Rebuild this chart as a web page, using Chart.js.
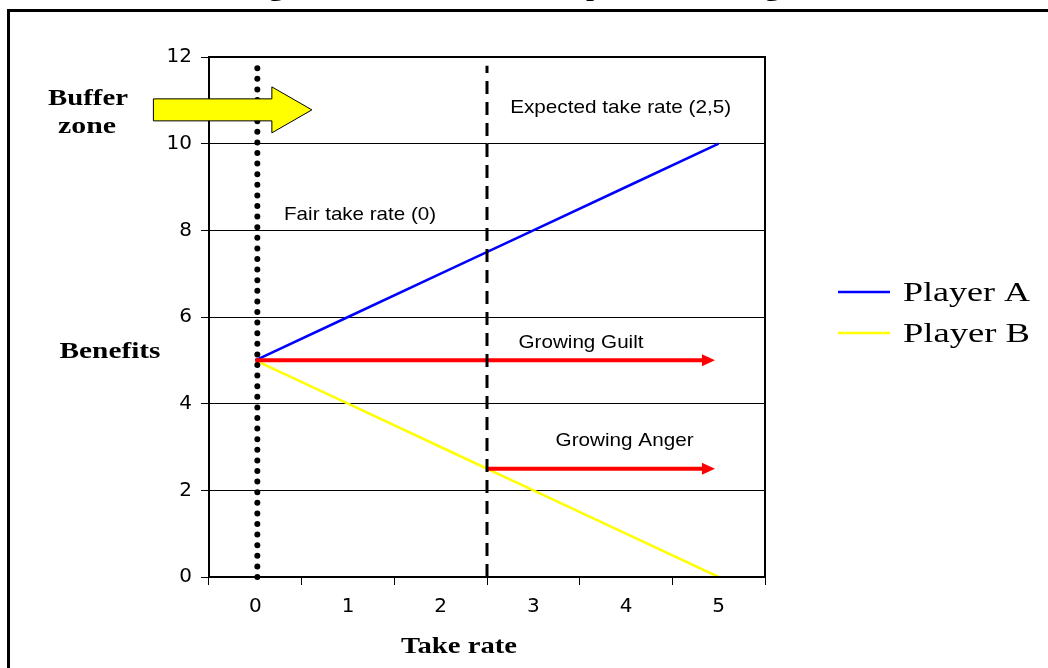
<!DOCTYPE html>
<html>
<head>
<meta charset="utf-8">
<title>Take rate and benefits</title>
<script src="https://cdn.jsdelivr.net/npm/chart.js@4.4.1/dist/chart.umd.min.js"></script>
<style>
  body { margin: 0; background: #fff; }
  canvas { display: block; }
</style>
</head>
<body>
<canvas id="takeChart" width="1048" height="668"></canvas>
<script>
// chart values
const takeRates = [0, 1, 2, 3, 4, 5];
const xLabels = ["0", "1", "2", "3", "4", "5"];
const playerA = [5, 6, 7, 8, 9, 10];
const playerB = [5, 4, 3, 2, 1, 0];
const yTicks = [0, 2, 4, 6, 8, 10, 12];

// reference lines and arrows, in data units: [from, to, level]
const fairRate = [0, 0, 11.8];
const expectedRate = [2.5, 0, 11.8];
const guiltArrow = [0, 4.96, 5];
const angerArrow = [2.5, 4.96, 2.5];
const bufferArrow = [-1.1, 0.61, 10.78];

// text notes inside the plot: [text, x, y (baseline), width px]
const notes = [
  ["Expected take rate (2,5)", 2.75, 10.71, 221],
  ["Fair take rate (0)", 0.31, 8.24, 152],
  ["Growing Guilt", 2.84, 5.28, 125],
  ["Growing Anger", 3.24, 3.02, 138]
];

const sansFont = "'Liberation Sans', Arial, sans-serif";
const serifFont = "'Liberation Serif', 'Times New Roman', serif";

function fitText(ctx, text, x, y, width, align) {
  const w = ctx.measureText(text).width;
  ctx.save();
  ctx.translate(x, y);
  ctx.scale(width / w, 1);
  ctx.textAlign = align || "left";
  ctx.fillText(text, 0, 0);
  ctx.restore();
}

const extras = {
  id: "extras",
  afterDatasetsDraw(chart) {
    const ctx = chart.ctx;
    const x = chart.scales.x;
    const y = chart.scales.y;
    const area = chart.chartArea;

    // box round the plot
    ctx.save();
    ctx.strokeStyle = "#000";
    ctx.lineWidth = 2;
    ctx.strokeRect(area.left, area.top, area.right - area.left, area.bottom - area.top);

    // red arrows
    [guiltArrow, angerArrow].forEach((a) => {
      const x0 = x.getPixelForValue(a[0]);
      const x1 = x.getPixelForValue(a[1]);
      const py = y.getPixelForValue(a[2]);
      ctx.strokeStyle = "#ff0000";
      ctx.fillStyle = "#ff0000";
      ctx.lineWidth = 4;
      ctx.beginPath();
      ctx.moveTo(x0, py);
      ctx.lineTo(x1 - 10, py);
      ctx.stroke();
      ctx.beginPath();
      ctx.moveTo(x1, py);
      ctx.lineTo(x1 - 13, py - 6);
      ctx.lineTo(x1 - 13, py + 6);
      ctx.closePath();
      ctx.fill();
    });

    // dashed line for expected rate
    ctx.strokeStyle = "#000";
    ctx.lineWidth = 3;
    ctx.setLineDash([13, 8]);
    ctx.beginPath();
    ctx.moveTo(x.getPixelForValue(expectedRate[0]), y.getPixelForValue(expectedRate[1]));
    ctx.lineTo(x.getPixelForValue(expectedRate[0]), y.getPixelForValue(expectedRate[2]));
    ctx.stroke();

    // dotted line for fair rate
    ctx.lineWidth = 6;
    ctx.lineCap = "round";
    ctx.setLineDash([0, 10.6]);
    ctx.beginPath();
    ctx.moveTo(x.getPixelForValue(fairRate[0]) + 2, y.getPixelForValue(fairRate[1]));
    ctx.lineTo(x.getPixelForValue(fairRate[0]) + 2, y.getPixelForValue(fairRate[2]));
    ctx.stroke();
    ctx.setLineDash([]);
    ctx.lineCap = "butt";

    // yellow block arrow
    const bx0 = x.getPixelForValue(bufferArrow[0]);
    const bx1 = x.getPixelForValue(bufferArrow[1]);
    const by = y.getPixelForValue(bufferArrow[2]);
    const hx = bx1 - 40;
    ctx.beginPath();
    ctx.moveTo(bx0, by - 11);
    ctx.lineTo(hx, by - 11);
    ctx.lineTo(hx, by - 23);
    ctx.lineTo(bx1, by);
    ctx.lineTo(hx, by + 23);
    ctx.lineTo(hx, by + 11);
    ctx.lineTo(bx0, by + 11);
    ctx.closePath();
    ctx.fillStyle = "#ffff00";
    ctx.fill();
    ctx.lineWidth = 1;
    ctx.strokeStyle = "#000";
    ctx.stroke();

    // notes
    ctx.fillStyle = "#000";
    ctx.textBaseline = "alphabetic";
    ctx.font = "19px " + sansFont;
    notes.forEach((n) => {
      fitText(ctx, n[0], x.getPixelForValue(n[1]), y.getPixelForValue(n[2]), n[3]);
    });

    // axis titles and side labels
    ctx.font = "bold 24px " + serifFont;
    fitText(ctx, "Buffer", 88, 105, 80, "center");
    fitText(ctx, "zone", 87, 133, 58, "center");
    fitText(ctx, "Benefits", 110, 358, 101, "center");
    fitText(ctx, "Take rate", 459, 653, 116, "center");

    // cut-off title at the top
    ctx.font = "bold 20px " + serifFont;
    fitText(ctx, "Figure 1: Illustration of the power-to-take game", 537, -4, 587, "center");

    // legend
    const legend = [["Player A", "#0000ff"], ["Player B", "#ffff00"]];
    legend.forEach((l, i) => {
      const ly = 292 + i * 41;
      ctx.strokeStyle = l[1];
      ctx.lineWidth = 2.5;
      ctx.beginPath();
      ctx.moveTo(838, ly);
      ctx.lineTo(890, ly);
      ctx.stroke();
      ctx.font = "27px " + serifFont;
      fitText(ctx, l[0], 903, ly + 9, 127);
    });

    // outer frame
    ctx.strokeStyle = "#000";
    ctx.lineWidth = 3;
    ctx.strokeRect(8.5, 10.5, 1100, 700);
    ctx.restore();
  }
};

new Chart(document.getElementById("takeChart"), {
  type: "line",
  data: {
    datasets: [
      {
        label: "Player A",
        data: takeRates.map((t, i) => ({ x: t, y: playerA[i] })),
        borderColor: "#0000ff",
        borderWidth: 2.5,
        pointRadius: 0,
        fill: false,
        tension: 0
      },
      {
        label: "Player B",
        data: takeRates.map((t, i) => ({ x: t, y: playerB[i] })),
        borderColor: "#ffff00",
        borderWidth: 2.5,
        pointRadius: 0,
        fill: false,
        tension: 0
      }
    ]
  },
  options: {
    responsive: false,
    animation: false,
    devicePixelRatio: 1,
    layout: { padding: { left: 0, top: 57, right: 283, bottom: 0 } },
    plugins: {
      legend: { display: false },
      tooltip: { enabled: false }
    },
    scales: {
      x: {
        type: "linear",
        min: -0.5,
        max: 5.5,
        afterBuildTicks: (scale) => {
          scale.ticks = takeRates.map((v) => ({ value: v }));
        },
        afterFit: (scale) => {
          scale.height = 91;
        },
        grid: {
          offset: true,
          drawOnChartArea: false,
          drawTicks: true,
          tickLength: 8,
          color: "#000",
          lineWidth: 1
        },
        border: { display: true, color: "#000", width: 2 },
        ticks: {
          padding: 10,
          color: "#000",
          font: { family: "'DejaVu Sans', sans-serif", size: 20 },
          callback: (v, i) => xLabels[i]
        }
      },
      y: {
        min: 0,
        max: 12,
        afterBuildTicks: (scale) => {
          scale.ticks = yTicks.map((v) => ({ value: v }));
        },
        afterFit: (scale) => {
          scale.width = 209;
        },
        grid: {
          color: "#000",
          lineWidth: 1,
          tickLength: 8
        },
        border: { display: true, color: "#000", width: 2 },
        ticks: {
          padding: 9,
          color: "#000",
          font: { family: "'DejaVu Sans', sans-serif", size: 20 },
          callback: (v) => String(v)
        }
      }
    }
  },
  plugins: [extras]
});
</script>
</body>
</html>
